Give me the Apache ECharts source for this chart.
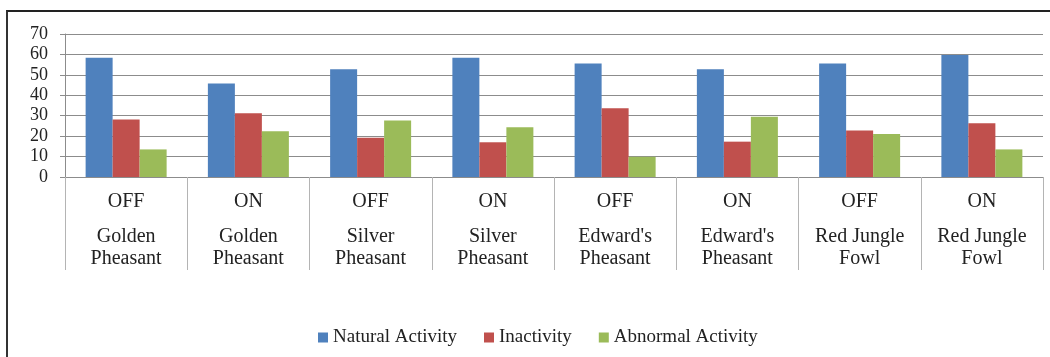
<!DOCTYPE html>
<html>
<head>
<meta charset="utf-8">
<script src="https://cdn.jsdelivr.net/npm/echarts@6/dist/echarts.min.js"></script>
<style>
  html, body { margin: 0; padding: 0; background: #fff; }
  #frame {
    position: absolute; left: 6px; top: 10px; width: 1044px; height: 347px;
    border-left: 2px solid #333; border-top: 2px solid #222;
  }
  #graph { position: absolute; left: 0; top: 0; width: 1050px; height: 357px; }
</style>
</head>
<body>
<div id="frame"></div>
<div id="graph"></div>
<script>
// light state + species under each group
const lightState = ['OFF', 'ON', 'OFF', 'ON', 'OFF', 'ON', 'OFF', 'ON'];
const species = [
  'Golden\nPheasant', 'Golden\nPheasant', 'Silver\nPheasant', 'Silver\nPheasant',
  "Edward's\nPheasant", "Edward's\nPheasant", 'Red Jungle\nFowl', 'Red Jungle\nFowl'
];
const seriesNames = ['Natural Activity', 'Inactivity', 'Abnormal Activity'];
const naturalActivity = [58.4, 45.8, 52.7, 58.4, 55.6, 52.7, 55.6, 59.7];
const inactivity = [28.2, 31.2, 19.2, 17.0, 33.6, 17.3, 22.8, 26.3];
const abnormalActivity = [13.5, 22.4, 27.6, 24.3, 9.9, 29.5, 21.0, 13.5];
const colors = ['#4F81BD', '#C0504D', '#9BBB59'];

const categories = lightState.map((s, i) => s + '|' + species[i]);
const serif = '"Liberation Serif", "Times New Roman", serif';

var myChart = echarts.init(document.getElementById('graph'));
myChart.setOption({
  animation: false,
  grid: { left: 65, right: 7, top: 34, bottom: 180 },
  legend: {
    data: seriesNames,
    left: 313,
    top: 323,
    icon: 'rect',
    itemWidth: 10,
    itemHeight: 10,
    itemGap: 27,
    textStyle: { fontFamily: serif, fontSize: 19, color: '#222' }
  },
  xAxis: {
    type: 'category',
    data: categories,
    axisLine: { lineStyle: { color: '#8c8c8c', width: 1 } },
    axisTick: { show: true, interval: 0, length: 93, lineStyle: { color: '#b4b4b4' } },
    axisLabel: {
      interval: 0,
      margin: 1,
      formatter: function (v) {
        const p = v.split('|');
        return '{a|' + p[0] + '}\n' + p[1].split('\n').map(t => '{b|' + t + '}').join('\n');
      },
      rich: {
        a: { fontFamily: serif, fontSize: 20, color: '#222', lineHeight: 47 },
        b: { fontFamily: serif, fontSize: 20, color: '#222', lineHeight: 22.6 }
      }
    }
  },
  yAxis: {
    type: 'value',
    min: 0,
    max: 70,
    interval: 10,
    axisLine: { show: true, lineStyle: { color: '#8c8c8c' } },
    axisTick: { show: true, length: 5, lineStyle: { color: '#8c8c8c' } },
    splitLine: { lineStyle: { color: '#8c8c8c' } },
    axisLabel: { fontFamily: serif, fontSize: 18, color: '#222', margin: 17 }
  },
  series: [naturalActivity, inactivity, abnormalActivity].map((d, i) => ({
    name: seriesNames[i],
    type: 'bar',
    data: d,
    barWidth: 27,
    barGap: '0%',
    itemStyle: { color: colors[i] }
  }))
});
</script>
</body>
</html>
